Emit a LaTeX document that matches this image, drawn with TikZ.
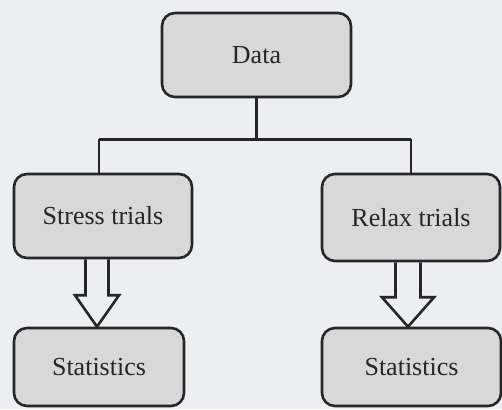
\documentclass[tikz,border=0pt]{standalone}
\usepackage{fontspec}
\setmainfont{Liberation Serif}
\newfontfamily\tnr{Liberation Serif}
\usetikzlibrary{calc}
\definecolor{bg}{HTML}{ECEEF2}
\definecolor{boxfill}{HTML}{D8D8D8}
\definecolor{ink}{HTML}{262626}
\begin{document}
\begin{tikzpicture}[x=1pt,y=1pt,
  box/.style={draw=ink, line width=2.6pt, fill=boxfill, rounded corners=13pt,
    font=\tnr\fontsize{26}{29}\selectfont, text=ink, inner sep=0pt},
  link/.style={draw=ink, line width=2.6pt},
  hollow/.style={draw=ink, line width=2.6pt, line join=miter}]
\fill[bg] (0,0) rectangle (502,409);
\useasboundingbox (0,0) rectangle (502,409);
\node[box, minimum width=189pt, minimum height=84pt] (data) at (256.5,354) {Data};
\node[box, minimum width=178pt, minimum height=84pt] (stress) at (103,193) {Stress trials};
\node[box, minimum width=178pt, minimum height=87pt] (relax) at (411,191.5) {Relax trials};
\node[box, minimum width=170pt, minimum height=78pt] (statL) at (99,42) {Statistics};
\node[box, minimum width=179pt, minimum height=78pt] (statR) at (411.5,42) {Statistics};
% tree connectors
\coordinate (sl) at ($(stress.north)+(-4,0)$);
\coordinate (j) at ($(data.south)+(0,-41)$);
\draw[link] (data.south) -- (j);
\draw[link] (sl |- j) -- (relax.north |- j);
\draw[link] (sl |- j) -- (sl);
\draw[link] (relax.north |- j) -- (relax.north);
% hollow arrows
\coordinate (a1) at ($(stress.south)+(-6,0)$);
\draw[hollow] ($(a1)+(-11.5,0)$) -- ($(a1)+(-11.5,-36)$) -- ($(a1)+(-22,-36)$)
  -- (a1 |- statL.north) -- ($(a1)+(22,-36)$) -- ($(a1)+(11.5,-36)$) -- ($(a1)+(11.5,0)$);
\coordinate (a2) at ($(relax.south)+(-3,0)$);
\draw[hollow] ($(a2)+(-12.5,0)$) -- ($(a2)+(-12.5,-35)$) -- ($(a2)+(-26,-35)$)
  -- (a2 |- statR.north) -- ($(a2)+(26,-35)$) -- ($(a2)+(12.5,-35)$) -- ($(a2)+(12.5,0)$);
\end{tikzpicture}
\end{document}
